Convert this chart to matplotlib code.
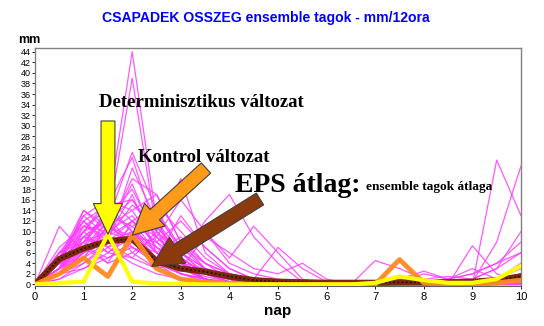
import numpy as np
import matplotlib
matplotlib.use('Agg')
import matplotlib.pyplot as plt

# 12-hourly precipitation (mm), forecast day 0..10 in half-day steps
days = [0, 0.5, 1, 1.5, 2, 2.5, 3, 3.5, 4, 4.5, 5, 5.5, 6, 6.5, 7, 7.5, 8, 8.5, 9, 9.5, 10]

members = [
    [0, 3, 8, 14, 44, 12, 4, 1, 0.5, 0, 0, 0, 0, 0, 0, 0, 0, 0.5, 0.5, 1, 2],
    [0, 2, 6, 12, 39, 10, 3, 1, 0, 0, 0, 0, 0, 0, 0, 0, 0.5, 0.5, 0, 0.5, 1],
    [0, 4, 9, 12, 25, 14, 6, 2, 1, 0.5, 0, 0, 0, 0, 0, 0, 0, 1, 2, 4, 8],
    [0, 3, 10, 15, 24, 10, 5, 2, 0.5, 0, 0, 0, 0, 0, 0, 0, 0, 0, 0.5, 1, 3],
    [0, 11, 6, 8, 22, 12, 4, 1, 0, 0, 0, 0, 0, 0, 0, 0, 0, 0, 0, 0.5, 1],
    [0, 5, 14, 10, 20, 17, 8, 3, 1, 0, 0, 0, 0, 0, 0, 0, 0, 0, 1, 3, 6],
    [0, 4, 12, 15, 16, 10, 20, 6, 2, 0.5, 0, 0, 0, 0, 0, 0, 0, 0, 0, 0.5, 1],
    [0, 6, 10, 16, 12, 8, 5, 12, 17, 9, 4, 0.5, 0, 0, 0, 0, 0, 0, 0, 0, 0.5],
    [0, 3, 8, 13, 18, 9, 16, 10, 5, 11, 6, 1, 0, 0, 0, 0, 0, 0, 0, 0, 0.5],
    [0, 2, 6, 11, 14, 17, 8, 4, 2, 1, 7, 3, 0.5, 0, 0, 0, 0, 0, 0, 0, 0],
    [0, 4, 13, 9, 12, 6, 3, 9, 6, 3, 2, 4, 1, 0, 0, 0, 0, 0, 0, 0, 0.5],
    [0, 5, 11, 14, 10, 5, 13, 7, 3, 1, 0, 0, 0, 0, 4.5, 3, 1, 0.5, 0.5, 0.5, 1],
    [0, 3, 7, 12, 16, 9, 4, 2, 0.5, 0, 0, 0, 0, 0, 0, 0, 0, 0, 7.3, 2, 0.5],
    [0, 2, 9, 13, 11, 14, 7, 3, 1, 0.5, 0, 0, 0, 0, 0, 0, 0.5, 0.5, 0, 23.5, 13],
    [0, 4, 8, 10, 13, 7, 5, 2, 1, 0, 0, 0, 0, 0, 0, 0, 0, 0, 0.5, 8, 22.4],
    [0, 3, 6, 9, 15, 11, 6, 3, 1, 0, 0, 0, 0, 0, 0, 0, 1, 1.5, 1, 3, 10],
    [0, 5, 12, 8, 10, 5, 2, 1, 0, 0, 0, 0, 0, 0, 0, 0.5, 2, 1, 2, 4, 6],
    [0, 2, 5, 11, 9, 12, 6, 2, 1, 0, 0, 0, 0, 0, 0, 1, 2.5, 1, 0.5, 1, 2],
    [0, 6, 9, 7, 11, 6, 3, 1, 0.5, 0, 0, 0, 0, 0, 0, 0, 0, 0, 0, 0, 0],
    [0, 3, 14, 11, 8, 4, 2, 1, 0, 0, 0, 0, 0, 0, 0, 0, 0, 0, 0, 0, 0],
    [0, 4, 7, 15, 10, 6, 9, 4, 2, 1, 0, 0, 0, 0, 0, 0, 0, 0, 0, 0.5, 1],
    [0, 2, 4, 8, 12, 15, 10, 5, 2, 1, 0.5, 0, 0, 0, 0, 0, 0, 0, 0, 0, 0],
    [0, 3, 10, 6, 9, 8, 12, 7, 3, 1, 0, 0, 0, 0, 0, 0, 0, 0, 0, 0, 0.5],
    [0, 5, 8, 13, 7, 4, 2, 1, 0, 0, 0, 0, 0, 0, 0, 0, 0, 0, 0, 0, 0],
    [0, 2, 6, 10, 19, 8, 3, 1, 0, 0, 0, 0, 0, 0, 0, 0, 0, 0, 0, 1, 4],
    [0, 4, 9, 6, 5, 3, 8, 10, 4, 2, 1, 0, 0, 0, 0, 0, 0, 0, 0, 0, 0],
    [0, 3, 11, 9, 17, 6, 2, 0.5, 0, 0, 0, 0, 0, 0, 0, 0, 0, 0, 0, 0, 0],
    [0, 1, 4, 7, 9, 11, 5, 2, 0.5, 0, 0, 0, 0, 0, 0, 0, 0, 0, 0, 0.5, 1.5],
    [0, 5, 13, 16, 14, 7, 4, 2, 1, 0, 0, 0, 0, 0, 0, 0, 0, 0, 0, 0, 0],
    [0, 3, 7, 5, 8, 4, 1, 0.5, 0, 0, 0, 0, 0, 0, 0, 0, 0.5, 1, 3, 1, 0.5],
    [0, 4, 6, 9, 7, 5, 3, 1.5, 0.5, 0, 0, 0, 0, 0, 0, 0, 0, 0, 0, 0, 0],
    [0, 6, 8, 4, 6, 9, 5, 2, 1, 0, 0, 0, 0, 0, 0, 0, 0, 0, 0, 0, 0],
    [0, 2, 3, 6, 10, 7, 4, 3, 1, 0.5, 0, 0, 0, 0, 0, 0, 0, 0, 0, 0, 0.5],
    [0, 5, 10, 12, 6, 3, 4, 2, 0.5, 0, 0, 0, 0, 0, 0, 0, 0, 0, 0, 0, 0],
    [0, 3, 5, 8, 5, 10, 6, 3, 2, 1, 0.5, 0, 0, 0, 0, 0, 0, 0, 0, 0, 0],
    [0, 7, 11, 10, 8, 6, 3, 1, 0, 0, 0, 0, 0, 0, 0, 0, 0, 0, 0, 0, 0],
    [0, 2, 7, 4, 12, 9, 5, 2, 1, 0, 0, 0, 0, 0, 0, 0, 0, 0, 0, 0, 0],
    [0, 4, 5, 11, 8, 13, 7, 4, 1, 0.5, 0, 0, 0, 0, 0, 0, 0, 0, 0, 0, 0],
    [0, 1, 3, 5, 7, 5, 2, 1, 0, 0, 0, 0, 0, 0, 0, 0, 0, 0, 0.5, 1, 2],
    [0, 6, 12, 7, 4, 2, 1, 0.5, 0, 0, 0, 0, 0, 0, 0, 0, 0, 0, 0, 0, 0],
]

deterministic = [0, 0.3, 0.5, 9.5, 0.5, 0.2, 0.1, 0, 0, 0, 0, 0, 0, 0, 0.3, 1.5, 0.8, 0.3, 0.3, 1, 3.5]
control = [0, 2, 5, 1.5, 9.3, 3, 1, 0.4, 0.2, 0, 0, 0, 0, 0, 0, 4.7, 0.3, 0, 0, 0.3, 0.8]
eps_mean = [0, 4.8, 6.8, 8.2, 8.6, 4.4, 3.0, 2.4, 1.5, 0.8, 0.5, 0.4, 0.3, 0.3, 0.3, 0.4, 0.4, 0.4, 0.5, 0.8, 1.5]

yticks = list(range(0, 46, 2))
xticks = list(range(0, 11))

fig = plt.figure(figsize=(5.44, 3.26), dpi=100)
ax = fig.add_axes([35 / 544, 40 / 326, 486 / 544, 238 / 326])

for m in members:
    ax.plot(days, m, color='#FF3CFF', lw=0.9, alpha=0.85, zorder=2)

ax.plot(days, eps_mean, color='#7A2A08', lw=4.5, zorder=3, solid_capstyle='round')
ax.plot(days, eps_mean, color='#2E0800', lw=1.2, ls=(0, (1, 1.5)), zorder=3)
ax.plot(days, control, color='#FF8A20', lw=3.5, zorder=4, alpha=0.95)
ax.plot(days, deterministic, color='#FFFF00', lw=3, zorder=5)

ax.set_xlim(0, 10)
ax.set_ylim(-0.3, 44.7)
ax.set_yticks(yticks)
ax.set_xticks(xticks)
ax.tick_params(axis='y', labelsize=6.5, length=2, width=0.6, pad=1)
ax.tick_params(axis='x', labelsize=8, length=2, width=0.6, pad=2)
for lbl in ax.get_xticklabels() + ax.get_yticklabels():
    lbl.set_fontfamily('Liberation Sans')
for s in ['top', 'right', 'left']:
    ax.spines[s].set_color('#808080')
    ax.spines[s].set_linewidth(1)
ax.spines['bottom'].set_color('#606060')

ax.set_xlabel('nap', fontsize=11, fontweight='bold', family='Liberation Sans', labelpad=2)
fig.text(18 / 544, 1 - 40 / 326, 'mm', fontsize=9, fontweight='bold', family='Liberation Sans',
         va='center', ha='left')
fig.text(266 / 544, 1 - 18 / 326, 'CSAPADEK OSSZEG ensemble tagok - mm/12ora', color='#0000FF',
         fontsize=10.1, fontweight='bold', family='Liberation Sans', ha='center', va='center')

# block arrows pointing at the highlighted curves
arrow_kw = dict(mutation_scale=1, shrinkA=0, shrinkB=0, lw=0.8, ec='#404040')
ax.annotate('', xy=(days[3], deterministic[3]), xycoords='data',
            xytext=(108, 205), textcoords='figure pixels', zorder=10,
            arrowprops=dict(arrowstyle='simple,head_length=22,head_width=21,tail_width=10',
                            fc='#FFFF00', **arrow_kw))
ax.annotate('', xy=(days[4], control[4]), xycoords='data',
            xytext=(206, 158), textcoords='figure pixels', zorder=10,
            arrowprops=dict(arrowstyle='simple,head_length=22,head_width=22,tail_width=10',
                            fc='#FF9A1A', **arrow_kw))
ax.annotate('', xy=(2.4, 3.4), xycoords='data',
            xytext=(260, 127), textcoords='figure pixels', zorder=10,
            arrowprops=dict(arrowstyle='simple,head_length=22,head_width=22,tail_width=10',
                            fc='#8B3A0E', **arrow_kw))

serif = 'Liberation Serif'
fig.text(99 / 544, 1 - 103 / 326, 'Determinisztikus változat', fontsize=13.5, fontweight='bold',
         family=serif, va='center', ha='left')
fig.text(138 / 544, 1 - 157 / 326, 'Kontrol változat', fontsize=13.5, fontweight='bold',
         family=serif, va='center', ha='left')
fig.text(235 / 544, 1 - 192 / 326, 'EPS átlag:', fontsize=20, fontweight='bold',
         family=serif, va='baseline', ha='left')
fig.text(366 / 544, 1 - 190 / 326, 'ensemble tagok átlaga', fontsize=9.6, fontweight='bold',
         family=serif, va='baseline', ha='left')

fig.savefig('out.png', dpi=100)
